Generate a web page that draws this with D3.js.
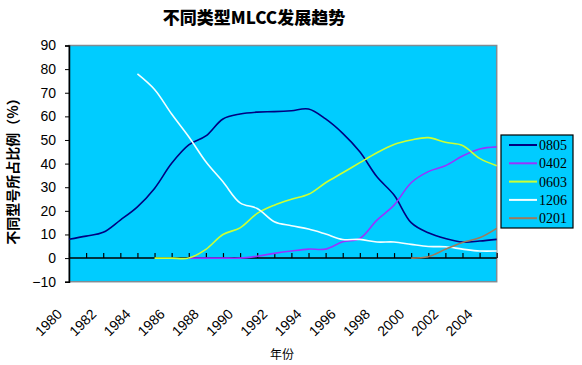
<!DOCTYPE html>
<html>
<head>
<meta charset="utf-8">
<script src="https://cdn.jsdelivr.net/npm/d3@7"></script>
<style>
  body { margin: 0; background: #fff; }
  svg { display: block; }
</style>
</head>
<body>
<svg id="chart" width="582" height="365"></svg>
<script>
const years = d3.range(1980, 2006);
const xTickLabels = ["1980","1982","1984","1986","1988","1990","1992","1994","1996","1998","2000","2002","2004"];
const yTicks = [-10, 0, 10, 20, 30, 40, 50, 60, 70, 80, 90];
const seriesNames = ["0805", "0402", "0603", "1206", "0201"];
const seriesColors = ["#000080", "#9933FF", "#CCFF33", "#F4FFFF", "#A07A5A"];

// values per year 1980..2005 (null = no data)
const s0805 = [8.0, 9.3, 10.9, 16.1, 21.7, 29.5, 40.1, 47.9, 51.7, 58.9, 61.0, 61.8, 62.0, 62.4, 63.1, 58.9, 52.8, 45.0, 34.4, 26.7, 15.0, 10.7, 8.3, 6.8, 7.2, 7.9];
const s0402 = [null, null, null, null, null, null, null, 0, 0, 0, 0, 0.8, 2.0, 3.0, 3.8, 3.8, 6.9, 8.3, 16.1, 22.4, 31.9, 36.6, 39.1, 43.2, 46.2, 47.1];
const s0603 = [null, null, null, null, null, 0, 0, 0, 3.7, 10.0, 12.8, 18.9, 22.4, 24.9, 27.0, 31.9, 36.1, 40.4, 44.6, 48.1, 50.0, 51.0, 49.0, 47.7, 42.2, 39.1];
const s1206 = [null, null, null, null, 78.0, 71.4, 61.0, 51.4, 40.8, 32.3, 23.4, 21.0, 15.4, 13.7, 12.3, 10.2, 7.9, 7.9, 6.8, 6.8, 5.8, 4.9, 4.8, 3.8, 3.0, 3.0];
const s0201 = [null, null, null, null, null, null, null, null, null, null, null, null, null, null, null, null, null, null, null, null, 0, 0.6, 3.7, 6.6, 8.6, 12.6];
const seriesValues = [s0805, s0402, s0603, s1206, s0201];

const svg = d3.select("#chart");
const pLeft = 69, pRight = 496.7, pTop = 45.5, pBottom = 281.7;

const x = d3.scaleLinear().domain([1980, 2005]).range([pLeft, pRight]);
const y = d3.scaleLinear().domain([-10, 90]).range([pBottom, pTop]);

// plot area
svg.append("rect")
  .attr("x", pLeft).attr("y", pTop)
  .attr("width", pRight - pLeft).attr("height", pBottom - pTop)
  .attr("fill", "#00CCFF")
  .attr("stroke", "#7f8c94").attr("stroke-width", 1.5);

// title
svg.append("text")
  .attr("x", 254).attr("y", 24)
  .attr("text-anchor", "middle")
  .style("font-family", "'Noto Sans CJK SC', sans-serif")
  .style("font-weight", "900")
  .style("font-size", "17px")
  .text("不同类型MLCC发展趋势");

// y axis
const yAxis = d3.axisLeft(y).tickValues(yTicks).tickSize(4).tickPadding(9);
const gy = svg.append("g").attr("transform", `translate(${pLeft},0)`).call(yAxis);
gy.select(".domain").attr("stroke", "#000").attr("stroke-width", 1.5);
gy.selectAll(".tick line").attr("stroke", "#000");
gy.selectAll(".tick text")
  .style("font-family", "'Liberation Sans', Arial, sans-serif")
  .style("font-size", "14px").attr("fill", "#000");

// x axis at zero, ticks upwards
const xAxis = d3.axisTop(x).tickValues(years).tickSize(5).tickFormat("");
const gx = svg.append("g").attr("transform", `translate(0,${y(0)})`).call(xAxis);
gx.select(".domain").remove();
gx.selectAll(".tick line").attr("stroke", "#000").attr("stroke-width", 1.2);
svg.append("line")
  .attr("x1", pLeft).attr("x2", pRight)
  .attr("y1", y(0)).attr("y2", y(0))
  .attr("stroke", "#000").attr("stroke-width", 1.5);

// x tick labels
svg.append("g").selectAll("text")
  .data(xTickLabels)
  .join("text")
  .attr("transform", d => `translate(${x(+d) - 6},315) rotate(-45)`)
  .attr("text-anchor", "end")
  .style("font-family", "'Liberation Sans', Arial, sans-serif")
  .style("font-size", "14px")
  .text(d => d);

// axis titles
svg.append("text")
  .attr("x", 282).attr("y", 359)
  .attr("text-anchor", "middle")
  .style("font-family", "'Noto Sans CJK SC', sans-serif")
  .style("font-size", "12px")
  .text("年份");

svg.append("text")
  .attr("transform", "translate(18,168) rotate(-90)")
  .attr("text-anchor", "middle")
  .style("font-family", "'Noto Sans CJK SC', sans-serif")
  .style("font-weight", "bold")
  .style("font-size", "14px")
  .text("不同型号所占比例（%）");

// lines
const line = d3.line()
  .x(d => x(d.year))
  .y(d => y(d.v))
  .curve(d3.curveCatmullRom.alpha(0.5));

seriesValues.forEach((vals, i) => {
  const data = years.map((yr, k) => ({ year: yr, v: vals[k] })).filter(d => d.v !== null);
  svg.append("path")
    .datum(data)
    .attr("d", line)
    .attr("fill", "none")
    .attr("stroke", seriesColors[i])
    .attr("stroke-width", 1.6);
});

// legend
const lg = svg.append("g");
lg.append("rect")
  .attr("x", 501).attr("y", 135)
  .attr("width", 72).attr("height", 93)
  .attr("fill", "#00CCFF").attr("stroke", "#000").attr("stroke-width", 1.2);
seriesNames.forEach((name, i) => {
  const yy = 145 + i * 18.3;
  lg.append("line")
    .attr("x1", 509).attr("x2", 537)
    .attr("y1", yy).attr("y2", yy)
    .attr("stroke", seriesColors[i]).attr("stroke-width", 2);
  lg.append("text")
    .attr("x", 539).attr("y", yy + 5)
    .style("font-family", "'Liberation Serif', 'DejaVu Serif', serif")
    .style("font-size", "14px")
    .text(name);
});
</script>
</body>
</html>
